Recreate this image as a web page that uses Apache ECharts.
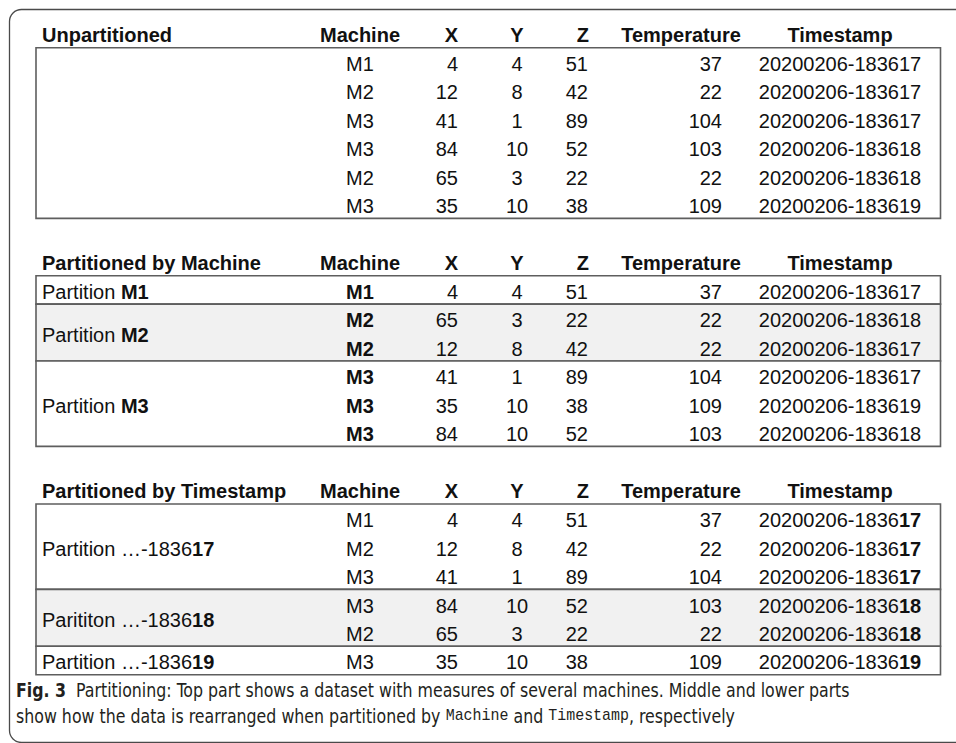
<!DOCTYPE html>
<html>
<head>
<meta charset="utf-8">
<script src="https://cdn.jsdelivr.net/npm/echarts@6/dist/echarts.min.js"></script>
<style>
  html, body { margin: 0; background: #fff; }
  #chart { width: 956px; height: 743px; }
</style>
</head>
<body>
<div id="chart"></div>
<script>
// ---- data ----
const columns = ['Machine', 'X', 'Y', 'Z', 'Temperature', 'Timestamp']
const sectionTitles = ['Unpartitioned', 'Partitioned by Machine', 'Partitioned by Timestamp']

// unpartitioned
const machineA = ['M1', 'M2', 'M3', 'M3', 'M2', 'M3']
const xA = [4, 12, 41, 84, 65, 35]
const yA = [4, 8, 1, 10, 3, 10]
const zA = [51, 42, 89, 52, 22, 38]
const tempA = [37, 22, 104, 103, 22, 109]
const stampA = ['20200206-183617', '20200206-183617', '20200206-183617', '20200206-183618', '20200206-183618', '20200206-183619']

// partitioned by machine
const machineB = ['M1', 'M2', 'M2', 'M3', 'M3', 'M3']
const xB = [4, 65, 12, 41, 35, 84]
const yB = [4, 3, 8, 1, 10, 10]
const zB = [51, 22, 42, 89, 38, 52]
const tempB = [37, 22, 22, 104, 109, 103]
const stampB = ['20200206-183617', '20200206-183618', '20200206-183617', '20200206-183617', '20200206-183619', '20200206-183618']
const partLabelsB = ['Partition M1', 'Partition M2', 'Partition M3']
const partSizesB = [1, 2, 3]

// partitioned by timestamp
const machineC = ['M1', 'M2', 'M3', 'M3', 'M2', 'M3']
const xC = [4, 12, 41, 84, 65, 35]
const yC = [4, 8, 1, 10, 3, 10]
const zC = [51, 42, 89, 52, 22, 38]
const tempC = [37, 22, 104, 103, 22, 109]
const stampC = ['20200206-183617', '20200206-183617', '20200206-183617', '20200206-183618', '20200206-183618', '20200206-183619']
const partLabelsC = ['Partition \u2026-183617', 'Parititon \u2026-183618', 'Partition \u2026-183619']
const partSizesC = [3, 2, 1]

const captionBold = 'Fig. 3'
const captionLine1 = 'Partitioning: Top part shows a dataset with measures of several machines. Middle and lower parts'
const captionLine2 = ['show how the data is rearranged when partitioned by ', 'Machine', ' and ', 'Timestamp', ', respectively']

// ---- layout ----
const W = 956, H = 743
const sectionTop = [47.7, 275.7, 504]
const rowH = 28.45
const boxLeft = 36, boxRight = 940.5
const textShift = 2
const colAnchor = [360, 458, 517, 588, 722, 840]
const colAlign = ['center', 'right', 'center', 'right', 'right', 'center']
const headAnchor = [360, 458, 517, 589, 681, 840]
const headAlign = ['center', 'right', 'center', 'right', 'center', 'center']
const labelX = 42
const boldMachine = [false, true, false]
const boldStampTail = [0, 0, 2]
const shadedPart = [false, true, false]

const tables = [
  [machineA, xA, yA, zA, tempA, stampA],
  [machineB, xB, yB, zB, tempB, stampB],
  [machineC, xC, yC, zC, tempC, stampC]
]
const partitions = [null, { labels: partLabelsB, sizes: partSizesB }, { labels: partLabelsC, sizes: partSizesC }]

const FONT = "'Liberation Sans', Arial, sans-serif"
const CAP_FONT = "'DejaVu Sans Condensed', 'Liberation Sans Narrow', sans-serif"
const MONO_FONT = "'Liberation Mono', 'Courier New', monospace"
const INK = '#111'
const CAP_INK = '#231f20'
const rich = {
  r: { fontFamily: FONT, fontSize: 20, fontWeight: 'normal', fill: INK },
  b: { fontFamily: FONT, fontSize: 20, fontWeight: 'bold', fill: INK }
}
function tail(str, n) {
  if (!n) return '{r|' + str + '}'
  return '{r|' + str.slice(0, -n) + '}{b|' + str.slice(-n) + '}'
}

// caption is squeezed to the width of the original's condensed face
const capSize = 20
const ctx = document.createElement('canvas').getContext('2d')
function textW(font, s) { ctx.font = font; return ctx.measureText(s).width }
const line1W = textW('bold ' + capSize + 'px ' + CAP_FONT, captionBold) + textW(capSize + 'px ' + CAP_FONT, '  ' + captionLine1)
const capScale = (850 - 16) / line1W
const capRich = {
  fb: { fontFamily: CAP_FONT, fontSize: capSize, fontWeight: 'bold', fill: CAP_INK },
  cr: { fontFamily: CAP_FONT, fontSize: capSize, fill: CAP_INK },
  cm: { fontFamily: MONO_FONT, fontSize: 17, fill: CAP_INK }
}

// cell items
const cellData = []
tables.forEach((t, s) => t.forEach((col, c) => col.forEach((v, r) => cellData.push([s, r, c]))))
const headData = []
sectionTitles.forEach((t, s) => { headData.push([s, -1]); columns.forEach((c, i) => headData.push([s, i])) })

// bands: [section, startRow, nRows, shaded, partIndex]
const bandData = [[0, 0, 6, 0]]
partitions.forEach((p, s) => {
  if (!p) return
  let start = 0
  p.sizes.forEach((n, i) => { bandData.push([s, start, n, shadedPart[i] ? 1 : 0, i]); start += n })
})

const chart = echarts.init(document.getElementById('chart'), null, { renderer: 'svg' })

chart.setOption({
  animation: false,
  grid: { left: 0, right: 0, top: 0, bottom: 0 },
  xAxis: { type: 'value', min: 0, max: W, show: false },
  yAxis: { type: 'value', min: 0, max: H, inverse: true, show: false },
  graphic: [
    {
      type: 'rect', z: 0, silent: true,
      shape: { x: 9.5, y: 9.5, width: 980, height: 733, r: 12 },
      style: { fill: 'none', stroke: '#4a4a4a', lineWidth: 1.3 }
    },
    {
      type: 'text', x: 16, y: 690, scaleX: capScale,
      style: {
        text: '{fb|' + captionBold + '}{cr|  ' + captionLine1 + '}',
        rich: capRich, align: 'left', verticalAlign: 'middle'
      }
    },
    {
      type: 'text', x: 16, y: 716, scaleX: capScale,
      style: {
        text: '{cr|' + captionLine2[0] + '}{cm|' + captionLine2[1] + '}{cr|' + captionLine2[2] + '}{cm|' + captionLine2[3] + '}{cr|' + captionLine2[4] + '}',
        rich: capRich, align: 'left', verticalAlign: 'middle'
      }
    }
  ],
  series: [
    {
      // partition bands and table boxes
      type: 'custom', z: 1,
      data: bandData,
      renderItem(params, api) {
        const s = api.value(0), r0 = api.value(1), n = api.value(2), shade = api.value(3)
        const top = sectionTop[s]
        const p0 = api.coord([boxLeft, top + r0 * rowH])
        const p1 = api.coord([boxRight, top + (r0 + n) * rowH])
        return {
          type: 'rect',
          shape: { x: p0[0], y: p0[1], width: p1[0] - p0[0], height: p1[1] - p0[1] },
          style: { fill: shade ? '#f1f1f1' : '#fff', stroke: '#5e5e5e', lineWidth: 1.6 }
        }
      }
    },
    {
      // partition labels
      type: 'custom', z: 2,
      data: bandData.filter(d => d.length > 4),
      renderItem(params, api) {
        const s = api.value(0), r0 = api.value(1), n = api.value(2), i = api.value(4)
        const label = partitions[s].labels[i]
        const p = api.coord([labelX, sectionTop[s] + (r0 + n / 2) * rowH + textShift])
        return {
          type: 'text', x: p[0], y: p[1],
          style: { text: tail(label, 2), rich, align: 'left', verticalAlign: 'middle', fontFamily: FONT, fontSize: 20, fill: INK }
        }
      }
    },
    {
      // headers
      type: 'custom', z: 2,
      data: headData,
      renderItem(params, api) {
        const s = api.value(0), c = api.value(1)
        const y = sectionTop[s] - 12.8
        const text = c < 0 ? sectionTitles[s] : columns[c]
        const p = api.coord([c < 0 ? labelX : headAnchor[c], y])
        return {
          type: 'text', x: p[0], y: p[1],
          style: { text, align: c < 0 ? 'left' : headAlign[c], verticalAlign: 'middle', fontFamily: FONT, fontSize: 20, fontWeight: 'bold', fill: INK }
        }
      }
    },
    {
      // body cells
      type: 'custom', z: 2,
      data: cellData,
      renderItem(params, api) {
        const s = api.value(0), r = api.value(1), c = api.value(2)
        const v = String(tables[s][c][r])
        let text = '{r|' + v + '}'
        if (c === 0 && boldMachine[s]) text = '{b|' + v + '}'
        if (c === 5) text = tail(v, boldStampTail[s])
        const p = api.coord([colAnchor[c], sectionTop[s] + (r + 0.5) * rowH + textShift])
        return {
          type: 'text', x: p[0], y: p[1],
          style: { text, rich, align: colAlign[c], verticalAlign: 'middle', fontFamily: FONT, fontSize: 20, fill: INK }
        }
      }
    }
  ]
})
window.addEventListener('resize', () => chart.resize())
</script>
</body>
</html>
